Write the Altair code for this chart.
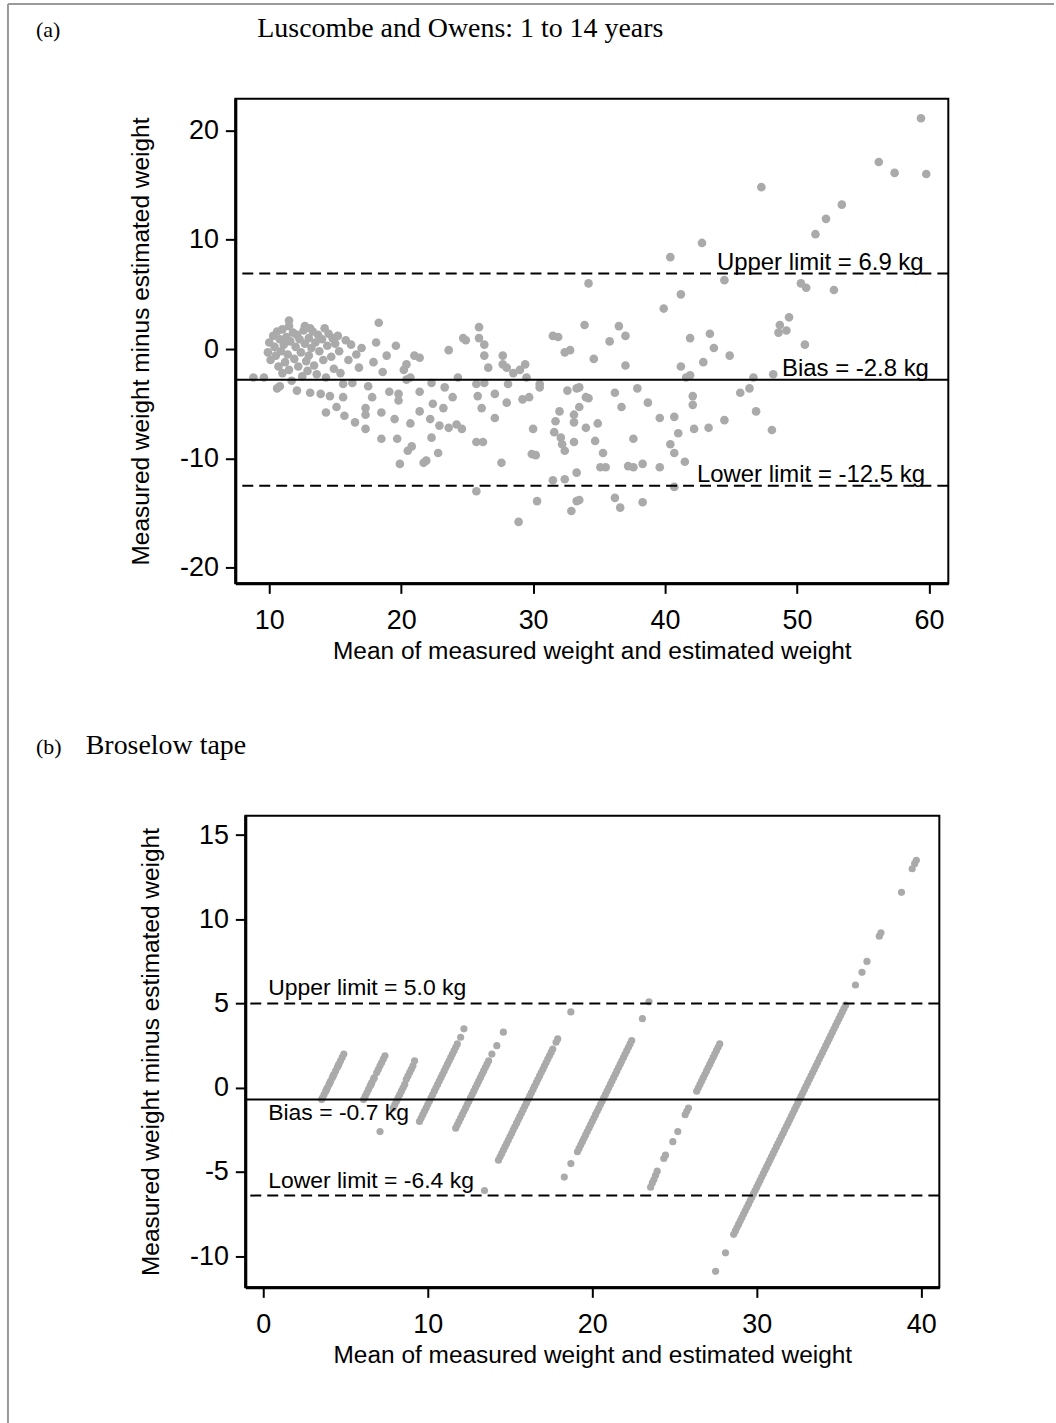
import altair as alt
import pandas as pd

# ---------------- Panel (a): Luscombe and Owens ----------------
a_points = [
    (8.8, -2.6), (9.6, -2.6), (9.9, -0.3), (10.0, 0.6), (10.1, -1.0), (10.3, 1.2), (10.4, 0.2),
    (10.5, -0.6), (10.6, 1.6), (10.6, -3.6), (10.7, -1.6), (10.8, 0.9), (10.8, -3.4), (10.9, -0.2),
    (11.0, -2.2), (11.0, 1.8), (11.1, 0.4), (11.2, -1.2), (11.3, 1.1), (11.4, -0.5), (11.5, 2.6),
    (11.5, 2.1), (11.5, -1.9), (11.6, 0.7), (11.7, -2.9), (11.8, 1.5), (11.9, -0.9), (12.0, 0.2),
    (12.1, -3.8), (12.1, 1.3), (12.2, -1.6), (12.3, 0.9), (12.4, -0.3), (12.5, -2.5), (12.6, 1.7),
    (12.7, 2.1), (12.7, 0.5), (12.8, -1.1), (12.9, -2.0), (13.0, 1.0), (13.0, -0.6), (13.1, 1.9),
    (13.1, -4.0), (13.2, 0.1), (13.3, 1.6), (13.4, -1.5), (13.5, 0.6), (13.6, -2.3), (13.7, 1.3),
    (13.8, -0.2), (13.9, -4.1), (14.0, 0.9), (14.1, -1.0), (14.2, 1.9), (14.3, -5.8), (14.3, -2.6),
    (14.4, 0.3), (14.5, 1.4), (14.6, -4.3), (14.7, -0.7), (14.8, 1.0), (14.9, -1.8), (15.0, 0.5),
    (15.1, -5.3), (15.2, 1.2), (15.3, -0.2), (15.4, -2.2), (15.6, -3.2), (15.6, -4.4), (15.7, -6.1),
    (15.8, 0.8), (16.0, -1.0), (16.2, 0.4), (16.3, -3.1), (16.5, -6.7), (16.6, -0.5), (16.8, -1.7),
    (17.0, 0.1), (17.3, -7.3), (17.3, -5.4), (17.3, -6.0), (17.5, -3.4), (17.8, -4.4), (17.9, -1.2),
    (18.1, 0.6), (18.3, 2.4), (18.5, -5.8), (18.5, -8.2), (18.6, -2.1), (18.9, -0.6), (19.1, -3.9),
    (19.5, -6.4), (19.6, 0.3), (19.7, -8.2), (19.8, -4.1), (19.8, -4.7), (19.9, -10.5), (20.2, -1.9),
    (20.4, -1.4), (20.4, -2.8), (20.5, -9.3), (20.7, -2.6), (20.7, -6.8), (20.8, -8.9), (21.0, -0.6),
    (21.4, -0.8), (21.4, -3.9), (21.4, -5.7), (21.7, -10.4), (21.9, -10.2), (22.2, -6.4), (22.3, -3.1),
    (22.3, -8.1), (22.4, -5.0), (22.8, -9.5), (22.9, -7.0), (23.2, -5.4), (23.3, -3.5), (23.6, -0.1),
    (23.6, -7.2), (23.9, -4.4), (24.2, -6.9), (24.3, -2.6), (24.6, -7.3), (24.7, 1.0), (24.9, 0.8),
    (25.7, -3.2), (25.7, -8.5), (25.7, -13.0), (25.8, -4.3), (25.9, 2.0), (25.9, 1.0), (26.1, -5.4),
    (26.2, -8.5), (26.3, 0.4), (26.3, -0.6), (26.3, -3.1), (26.6, -1.7), (27.1, -4.1), (27.1, -6.3),
    (27.6, -10.4), (27.7, -0.6), (27.7, -1.4), (28.0, -1.7), (28.0, -4.9), (28.1, -3.2), (28.5, -2.2),
    (28.9, -15.8), (29.0, -1.9), (29.2, -4.6), (29.4, -1.4), (29.5, -2.6), (29.7, -4.4), (29.9, -9.6),
    (30.0, -7.3), (30.2, -9.7), (30.3, -13.9), (30.5, -3.2), (30.5, -3.5), (31.5, 1.2), (31.5, -12.0),
    (31.6, -7.6), (31.7, -6.6), (31.9, 1.1), (32.0, -5.7), (32.1, -8.1), (32.2, -8.7), (32.4, -0.3),
    (32.4, -9.3), (32.4, -11.9), (32.6, -3.8), (32.8, -0.1), (32.9, -14.8), (33.1, -6.0), (33.1, -6.7),
    (33.1, -8.5), (33.3, -3.6), (33.3, -11.3), (33.3, -13.9), (33.5, -3.5), (33.5, -5.3), (33.5, -13.8),
    (33.9, 2.2), (34.0, -4.4), (34.0, -7.2), (34.2, 6.0), (34.2, -4.5), (34.6, -0.9), (34.7, -8.4),
    (34.9, -6.8), (35.1, -10.8), (35.3, -9.5), (35.5, -10.8), (35.8, 0.7), (36.2, -4.0), (36.2, -13.6),
    (36.5, 2.1), (36.6, -14.5), (36.7, -5.3), (37.0, 1.2), (37.0, -1.5), (37.2, -10.7), (37.6, -8.2),
    (37.6, -10.8), (37.9, -3.6), (38.3, -10.5), (38.3, -14.0), (38.7, -4.9), (39.6, -6.3), (39.6, -10.8),
    (39.9, 3.7), (40.4, 8.4), (40.4, -8.7), (40.7, -6.2), (40.7, -9.5), (40.7, -12.6), (41.0, -7.7),
    (41.2, 5.0), (41.2, -1.6), (41.5, -10.3), (41.6, -2.6), (41.9, 1.0), (41.9, -2.4), (42.1, -4.3),
    (42.1, -5.1), (42.2, -7.3), (42.8, 9.7), (42.9, -1.2), (43.3, -7.2), (43.4, 1.4), (43.7, 0.1),
    (44.5, 6.3), (44.5, -6.5), (44.9, -0.6), (45.7, -4.0), (46.4, -3.6), (46.7, -2.6), (46.9, -5.7),
    (47.3, 14.8), (48.1, -7.4), (48.2, -2.3), (48.6, 1.5), (48.7, 2.2), (49.2, 1.7), (49.4, 2.9),
    (50.3, 6.0), (50.6, 0.4), (50.7, 5.6), (51.4, 10.5), (52.2, 11.9), (52.8, 5.4), (53.4, 13.2),
    (56.2, 17.1), (57.4, 16.1), (59.4, 21.1), (59.8, 16.0),
]
a_x_ticks = [10, 20, 30, 40, 50, 60]
a_y_ticks = [-20, -10, 0, 10, 20]
a_x_domain = [7.43, 61.47]
a_y_domain = [-21.42, 22.88]
a_upper, a_bias, a_lower = 6.9, -2.8, -12.5
a_label_x = [59.6, 60.0, 59.7]
a_labels = ["Upper limit = 6.9 kg", "Bias = -2.8 kg", "Lower limit = -12.5 kg"]

# ---------------- Panel (b): Broselow tape ----------------
b_points = [
    # zone ~4 kg
    (3.55, -0.7), (3.6, -0.6), (3.7, -0.4), (3.8, -0.2), (3.85, -0.1), (3.9, 0.0), (4.0, 0.2),
    (4.05, 0.3), (4.1, 0.4), (4.2, 0.6), (4.25, 0.7), (4.3, 0.8), (4.4, 1.0), (4.5, 1.2), (4.55, 1.3),
    (4.6, 1.4), (4.7, 1.6), (4.8, 1.8), (4.9, 2.0),
    # zone ~6.5 kg
    (6.1, -0.7), (6.2, -0.5), (6.3, -0.3), (6.4, -0.1), (6.5, 0.1), (6.55, 0.2), (6.6, 0.3),
    (6.7, 0.5), (6.75, 0.6), (6.9, 0.9), (7.0, 1.1), (7.1, 1.3), (7.2, 1.5), (7.3, 1.7), (7.4, 1.9),
    (7.1, -2.6),
    # zone ~8.5 kg
    (7.9, -1.2), (8.0, -1.0), (8.1, -0.8), (8.2, -0.6), (8.3, -0.4), (8.4, -0.2), (8.5, 0.0),
    (8.6, 0.2), (8.7, 0.5), (8.8, 0.7), (8.9, 0.9), (9.0, 1.1), (9.1, 1.3), (9.2, 1.6),
    # zone ~10.5 kg
    (9.5, -2.0), (9.6, -1.8), (9.7, -1.6), (9.8, -1.4), (9.9, -1.2), (10.0, -1.0), (10.1, -0.8),
    (10.2, -0.6), (10.3, -0.4), (10.4, -0.2), (10.5, 0.0), (10.6, 0.2), (10.7, 0.4), (10.8, 0.6),
    (10.9, 0.8), (11.0, 1.0), (11.1, 1.2), (11.2, 1.4), (11.3, 1.6), (11.4, 1.8), (11.5, 2.0),
    (11.6, 2.2), (11.7, 2.4), (11.8, 2.6), (12.0, 3.0), (12.2, 3.5),
    # zone ~13 kg
    (11.7, -2.4), (11.8, -2.2), (11.9, -2.0), (12.0, -1.8), (12.1, -1.6), (12.2, -1.4), (12.3, -1.2),
    (12.4, -1.0), (12.5, -0.8), (12.6, -0.6), (12.7, -0.4), (12.8, -0.2), (12.9, 0.0), (13.0, 0.2),
    (13.1, 0.4), (13.2, 0.6), (13.3, 0.8), (13.4, 1.0), (13.5, 1.2), (13.6, 1.4), (13.7, 1.6),
    (13.9, 2.0), (14.2, 2.5), (14.6, 3.3), (13.45, -6.1),
    # zone ~16.5 kg
    (14.3, -4.3), (14.4, -4.1), (14.5, -3.9), (14.6, -3.7), (14.7, -3.5), (14.8, -3.3), (14.9, -3.1),
    (15.0, -2.9), (15.1, -2.7), (15.2, -2.5), (15.3, -2.3), (15.4, -2.1), (15.5, -1.9), (15.6, -1.7),
    (15.7, -1.5), (15.8, -1.3), (15.9, -1.1), (16.0, -0.9), (16.1, -0.7), (16.2, -0.5), (16.3, -0.3),
    (16.4, -0.1), (16.5, 0.1), (16.6, 0.3), (16.7, 0.5), (16.8, 0.7), (16.9, 0.9), (17.0, 1.1),
    (17.1, 1.3), (17.2, 1.5), (17.3, 1.7), (17.4, 1.9), (17.5, 2.1), (17.6, 2.3), (17.8, 2.7),
    (17.9, 2.9), (18.7, 4.5),
    # zone ~21 kg
    (18.3, -5.3), (18.7, -4.5), (19.1, -3.8), (19.2, -3.6), (19.3, -3.4), (19.4, -3.2), (19.5, -3.0),
    (19.6, -2.8), (19.7, -2.6), (19.8, -2.4), (19.9, -2.2), (20.0, -2.0), (20.1, -1.8), (20.2, -1.6),
    (20.3, -1.4), (20.4, -1.2), (20.5, -1.0), (20.6, -0.8), (20.7, -0.6), (20.8, -0.4), (20.9, -0.2),
    (21.0, 0.0), (21.1, 0.2), (21.2, 0.4), (21.3, 0.6), (21.4, 0.8), (21.5, 1.0), (21.6, 1.2),
    (21.7, 1.4), (21.8, 1.6), (21.9, 1.8), (22.0, 2.0), (22.1, 2.2), (22.2, 2.4), (22.3, 2.6),
    (22.4, 2.8), (23.05, 4.1), (23.45, 5.1),
    # zone ~26.5 kg
    (23.55, -5.9), (23.65, -5.65), (23.75, -5.45), (23.85, -5.2), (23.95, -4.95), (24.35, -4.2),
    (24.45, -4.0), (24.9, -3.2), (25.2, -2.6), (25.65, -1.6), (25.75, -1.4), (25.85, -1.2),
    (26.35, -0.2), (26.45, 0.0), (26.55, 0.2), (26.65, 0.4), (26.75, 0.6), (26.85, 0.8), (26.95, 1.0),
    (27.05, 1.2), (27.15, 1.4), (27.25, 1.6), (27.35, 1.8), (27.45, 2.0), (27.55, 2.2), (27.65, 2.4),
    (27.75, 2.6),
    # zone ~33 kg
    (27.5, -10.9), (28.1, -9.8), (28.6, -8.7), (28.7, -8.5), (28.8, -8.3), (28.9, -8.1), (29.0, -7.9),
    (29.1, -7.7), (29.2, -7.5), (29.3, -7.3), (29.4, -7.1), (29.5, -6.9), (29.6, -6.7), (29.7, -6.5),
    (29.8, -6.3), (29.9, -6.1), (30.0, -5.9), (30.1, -5.7), (30.2, -5.5), (30.3, -5.3), (30.4, -5.1),
    (30.5, -4.9), (30.6, -4.7), (30.7, -4.5), (30.8, -4.3), (30.9, -4.1), (31.0, -3.9), (31.1, -3.7),
    (31.2, -3.5), (31.3, -3.3), (31.4, -3.1), (31.5, -2.9), (31.6, -2.7), (31.7, -2.5), (31.8, -2.3),
    (31.9, -2.1), (32.0, -1.9), (32.1, -1.7), (32.2, -1.5), (32.3, -1.3), (32.4, -1.1), (32.5, -0.9),
    (32.6, -0.7), (32.7, -0.5), (32.8, -0.3), (32.9, -0.1), (33.0, 0.1), (33.1, 0.3), (33.2, 0.5),
    (33.3, 0.7), (33.4, 0.9), (33.5, 1.1), (33.6, 1.3), (33.7, 1.5), (33.8, 1.7), (33.9, 1.9),
    (34.0, 2.1), (34.1, 2.3), (34.2, 2.5), (34.3, 2.7), (34.4, 2.9), (34.5, 3.1), (34.6, 3.3),
    (34.7, 3.5), (34.8, 3.7), (34.9, 3.9), (35.0, 4.1), (35.1, 4.3), (35.2, 4.5), (35.3, 4.7),
    (35.4, 4.9), (36.0, 6.1), (36.4, 6.85), (36.7, 7.5), (37.45, 9.0), (37.55, 9.2), (38.8, 11.6),
    (39.45, 13.0), (39.6, 13.3), (39.7, 13.5),
]
b_x_ticks = [0, 10, 20, 30, 40]
b_y_ticks = [-10, -5, 0, 5, 10, 15]
b_x_domain = [-1.09, 41.1]
b_y_domain = [-11.85, 16.15]
b_upper, b_bias, b_lower = 5.0, -0.7, -6.4
b_label_x = 0.3
b_labels = ["Upper limit = 5.0 kg", "Bias = -0.7 kg", "Lower limit = -6.4 kg"]

POINT = "#aaaaaa"
SANS = "Liberation Sans"
SERIF = "Liberation Serif"
XT = "Mean of measured weight and estimated weight"
YT = "Measured weight minus estimated weight"
LABEL_EXPR = "'' + datum.value"


def panel(points, xdom, ydom, xticks, yticks, w, h, upper, bias, lower,
          labels, lab_x, lab_align, lab_dy, lab_size, letter, title, letter_x, title_x, psize,
          border_x, border_top, border_bottom, top_line):
    df = pd.DataFrame(points, columns=["x", "y"])
    xs = alt.Scale(domain=xdom, nice=False, zero=False)
    ys = alt.Scale(domain=ydom, nice=False, zero=False)
    xax = alt.Axis(values=xticks, title=XT, labelExpr=LABEL_EXPR)
    yax = alt.Axis(values=yticks, title=YT, labelExpr=LABEL_EXPR)
    pts = alt.Chart(df).mark_circle(size=psize, color=POINT, opacity=1).encode(
        x=alt.X("x:Q", scale=xs, axis=xax),
        y=alt.Y("y:Q", scale=ys, axis=yax),
    )
    dashed = alt.Chart(pd.DataFrame({"y": [upper, lower]})).mark_rule(
        color="black", strokeWidth=2, strokeDash=[11, 6]
    ).encode(y=alt.Y("y:Q", scale=ys, axis=yax))
    solid = alt.Chart(pd.DataFrame({"y": [bias]})).mark_rule(
        color="black", strokeWidth=2
    ).encode(y=alt.Y("y:Q", scale=ys, axis=yax))
    layers = [pts, dashed, solid]
    for val, txt, lx, dy in zip([upper, bias, lower], labels, lab_x, lab_dy):
        layers.append(
            alt.Chart(pd.DataFrame({"x": [lx], "y": [val], "t": [txt]})).mark_text(
                align=lab_align, baseline="alphabetic", font=SANS, fontSize=lab_size,
                color="black", dy=dy
            ).encode(
                x=alt.X("x:Q", scale=xs, axis=xax),
                y=alt.Y("y:Q", scale=ys, axis=yax),
                text="t:N",
            )
        )
    # panel letter and heading
    layers.append(
        alt.Chart(pd.DataFrame({"t": [letter]})).mark_text(
            align="left", baseline="alphabetic", font=SERIF, fontSize=22, color="black"
        ).encode(x=alt.value(letter_x), y=alt.value(-62), text="t:N")
    )
    layers.append(
        alt.Chart(pd.DataFrame({"t": [title]})).mark_text(
            align="left", baseline="alphabetic", font=SERIF, fontSize=28, color="black"
        ).encode(x=alt.value(title_x), y=alt.value(-62), text="t:N")
    )
    # figure frame (grey border on left / top)
    layers.append(
        alt.Chart(pd.DataFrame({"a": [0]})).mark_rule(color="#9a9a9a", strokeWidth=2).encode(
            x=alt.value(border_x), y=alt.value(border_top), y2=alt.value(border_bottom)
        )
    )
    if top_line:
        layers.append(
            alt.Chart(pd.DataFrame({"a": [0]})).mark_rule(color="#9a9a9a", strokeWidth=2).encode(
                x=alt.value(border_x), x2=alt.value(821), y=alt.value(border_top)
            )
        )
    return alt.layer(*layers).properties(width=w, height=h)


panel_a = panel(a_points, a_x_domain, a_y_domain, a_x_ticks, a_y_ticks, 715, 486,
                a_upper, a_bias, a_lower, a_labels, a_label_x, "right", [-4, -4, -4], 24,
                "(a)", "Luscombe and Owens: 1 to 14 years", -200, 22, 75,
                -228, -95, 660, True)
panel_b = panel(b_points, b_x_domain, b_y_domain, b_x_ticks, b_y_ticks, 696, 473,
                b_upper, b_bias, b_lower, b_labels, [b_label_x] * 3, "left", [-9, 21, -8], 23,
                "(b)", "Broselow tape", -210, -160, 52,
                -238, -120, 610, False)

# invisible narrow spacer that shifts panel (b) 10 px to the right
spacer = alt.Chart(pd.DataFrame({"a": [0]})).mark_point(opacity=0).encode(
    x=alt.value(0), y=alt.value(0)
).properties(width=1, height=473, view=alt.ViewBackground(strokeOpacity=0, stroke=None))

row_b = alt.hconcat(spacer, panel_b, spacing=9, bounds="flush")

chart = alt.vconcat(panel_a, row_b, spacing=233, bounds="flush").properties(
    padding={"left": 6, "top": 0, "right": 0, "bottom": 0}
).configure_view(
    stroke="black", strokeWidth=2
).configure_axis(
    grid=False,
    domainColor="black", domainWidth=3,
    tickColor="black", tickWidth=2, tickSize=10,
    labelFont=SANS, labelFontSize=27, labelColor="black", labelPadding=7,
    titleFont=SANS, titleFontSize=24.5, titleFontWeight="normal", titleColor="black",
).configure_axisY(
    titlePadding=26
).configure_axisX(
    labelPadding=14, titlePadding=6
)

chart.save("out.html", embed_options={"renderer": "svg", "actions": False})
